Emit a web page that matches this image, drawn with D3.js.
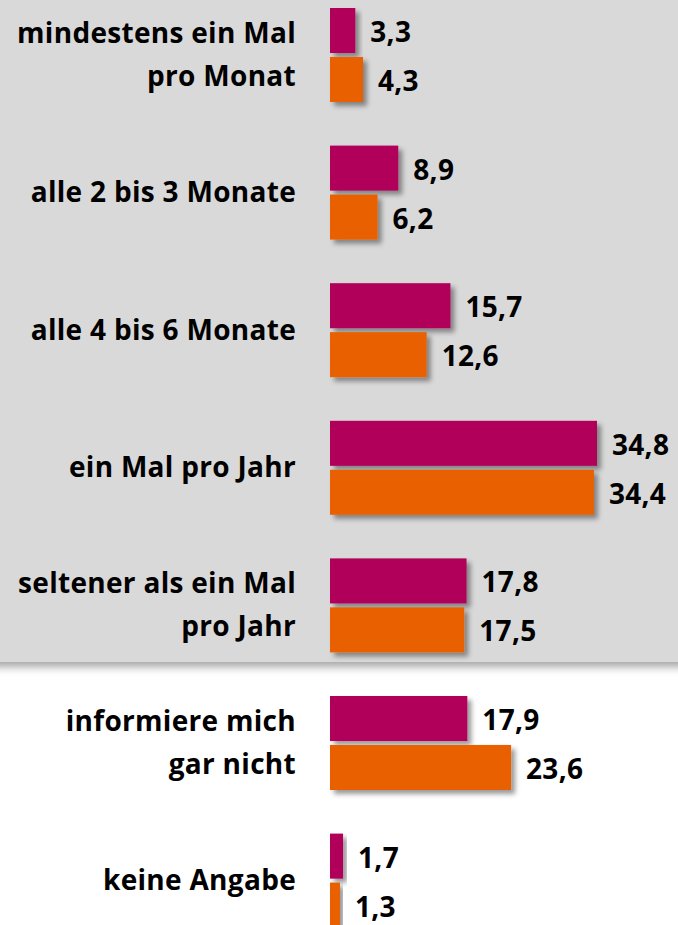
<!doctype html>
<html>
<head>
<script src="https://d3js.org/d3.v7.min.js"></script>
<style>
  body, html { margin: 0; padding: 0; overflow: hidden; background: #fff; }
  text { font-family: "Open Sans", "Noto Sans", sans-serif; font-weight: bold; fill: #000; letter-spacing: 0.3px; }
</style>
</head>
<body>
<script>
const categories = [
  ["mindestens ein Mal", "pro Monat"],
  ["alle 2 bis 3 Monate"],
  ["alle 4 bis 6 Monate"],
  ["ein Mal pro Jahr"],
  ["seltener als ein Mal", "pro Jahr"],
  ["informiere mich", "gar nicht"],
  ["keine Angabe"]
];
const series = ["a", "b"];
const valuesA = [3.3, 8.9, 15.7, 34.8, 17.8, 17.9, 1.7];
const valuesB = [4.3, 6.2, 12.6, 34.4, 17.5, 23.6, 1.3];
const colors = { a: "#b0005a", b: "#e86000" };

const width = 678, height = 925;
const fs = 28, lineGap = 43;
const svg = d3.create("svg").attr("width", width).attr("height", height);

const defs = svg.append("defs");
const f = defs.append("filter").attr("id", "shadow")
  .attr("x", "-20%").attr("y", "-20%").attr("width", "150%").attr("height", "160%");
f.append("feDropShadow").attr("dx", 4).attr("dy", 4).attr("stdDeviation", 2.5)
  .attr("flood-color", "#000").attr("flood-opacity", 0.4);
const pf = defs.append("filter").attr("id", "pshadow")
  .attr("x", "-5%").attr("y", "-5%").attr("width", "110%").attr("height", "115%");
pf.append("feDropShadow").attr("dx", 0).attr("dy", 5).attr("stdDeviation", 4)
  .attr("flood-color", "#000").attr("flood-opacity", 0.35);

// gray panel behind the first five categories
svg.append("rect").attr("x", -10).attr("y", -10).attr("width", width + 20).attr("height", 672)
  .attr("fill", "#d9d9d9").attr("filter", "url(#pshadow)");

const keys = categories.map((d, i) => i);
const step = 137.6, pin = (step - 94) / step;
const y = d3.scaleBand().domain(keys)
  .range([8 - step * pin / 2, 8 - step * pin / 2 + step * keys.length])
  .paddingInner(pin).paddingOuter(pin / 2);
const yi = d3.scaleBand().domain(series).range([0, y.bandwidth()]).paddingInner(0.08);
const x = d3.scaleLinear().domain([0, 34.8]).range([330, 597]);

const data = [];
keys.forEach(i => {
  data.push({ i, s: "a", v: valuesA[i] });
  data.push({ i, s: "b", v: valuesB[i] });
});

svg.append("g").selectAll("rect").data(data).join("rect")
  .attr("x", x(0))
  .attr("y", d => y(d.i) + yi(d.s))
  .attr("width", d => x(d.v) - x(0))
  .attr("height", yi.bandwidth())
  .attr("fill", d => colors[d.s])
  .attr("filter", "url(#shadow)");

svg.append("g").selectAll("text").data(data).join("text")
  .attr("x", d => x(d.v) + 15)
  .attr("y", d => y(d.i) + yi(d.s) + yi.bandwidth() / 2 + 11.5)
  .attr("font-size", fs)
  .text(d => d3.format(".1f")(d.v).replace(".", ","));

svg.append("g").selectAll("g").data(keys).join("g")
  .each(function (i) {
    const lines = categories[i];
    const c = y(i) + y.bandwidth() / 2;
    d3.select(this).selectAll("text").data(lines).join("text")
      .attr("text-anchor", "end")
      .attr("font-size", fs)
      .attr("x", 296)
      .attr("y", (t, k) => c + (k - (lines.length - 1) / 2) * lineGap + 9.5)
      .text(t => t);
  });

document.body.appendChild(svg.node());
</script>
</body>
</html>
